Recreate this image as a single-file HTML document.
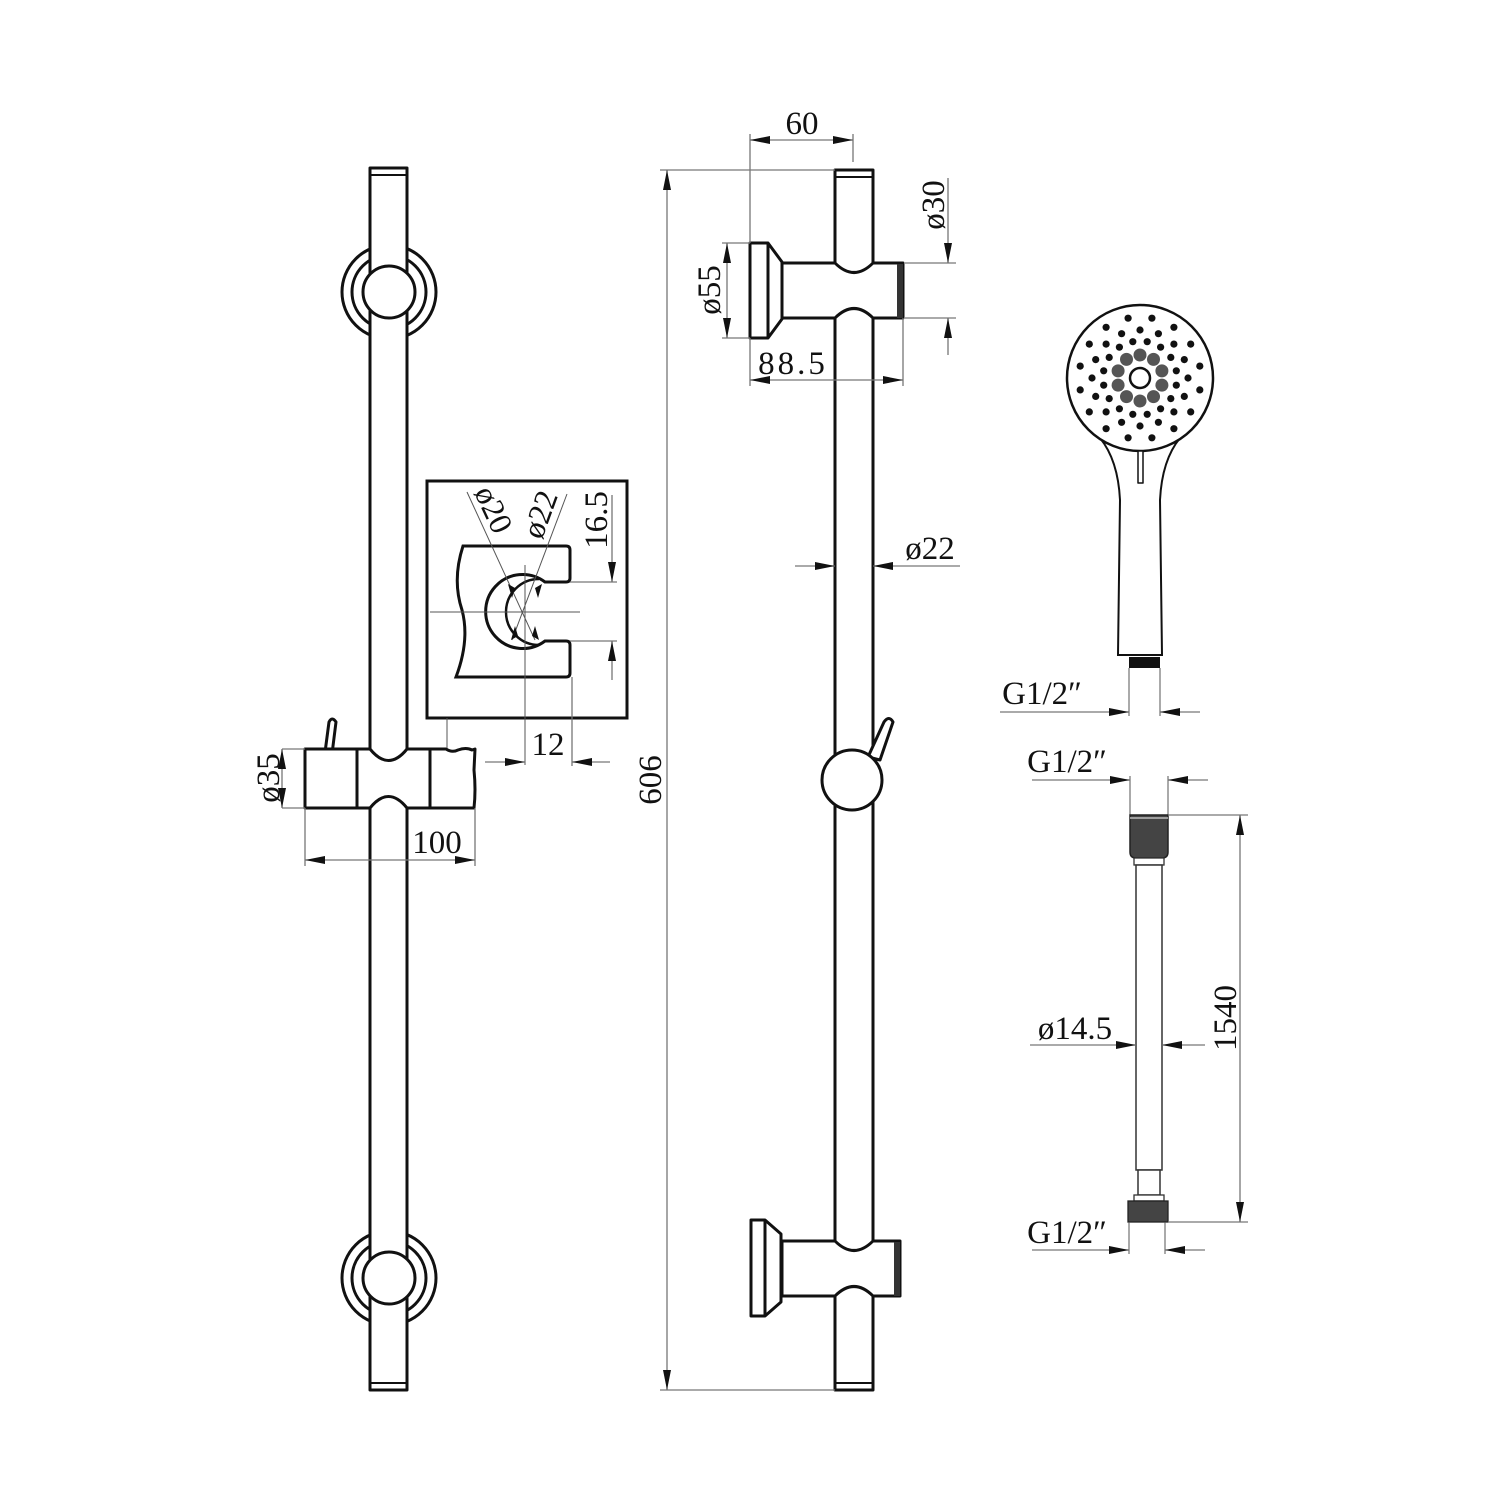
<!DOCTYPE html>
<html><head><meta charset="utf-8"><style>
html,body{margin:0;padding:0;background:#fff}
svg{display:block}
text{font-family:"Liberation Serif",serif;font-size:33px;fill:#111}
.o{fill:#fff;stroke:#111;stroke-width:3;stroke-linejoin:round}
.n{fill:none;stroke:#111;stroke-width:3}
.d{fill:none;stroke:#777;stroke-width:1.3}
.c{fill:none;stroke:#555;stroke-width:1}
</style></head><body>
<svg width="1500" height="1500" viewBox="0 0 1500 1500" xmlns="http://www.w3.org/2000/svg">
<defs>
<marker id="a" viewBox="0 0 20 8" refX="20" refY="4" markerWidth="20" markerHeight="8" markerUnits="userSpaceOnUse" orient="auto"><path d="M0,0 L20,4 L0,8 Z" fill="#111"/></marker>
</defs>

<!-- ===== LEFT RAIL ===== -->
<circle class="n" cx="389" cy="292" r="47"/>
<circle class="n" cx="389" cy="292" r="37"/>
<circle class="n" cx="389" cy="1278" r="47"/>
<circle class="n" cx="389" cy="1278" r="37"/>
<rect class="o" x="370" y="168" width="37" height="1222"/>
<line x1="370" y1="175" x2="407" y2="175" stroke="#111" stroke-width="2"/>
<line x1="370" y1="1383" x2="407" y2="1383" stroke="#111" stroke-width="2"/>
<circle class="o" cx="389" cy="292" r="26"/>
<circle class="o" cx="389" cy="1278" r="26"/>

<!-- left slider -->
<path class="o" d="M324,760 L329,722 Q332,716 336,722 L331,762 Q328,768 324,760 Z"/>
<rect class="o" x="305" y="749" width="52" height="59"/>
<path class="o" d="M357,749 L370,749 Q388.5,772 407,749 L430,749 L430,808 L407,808 Q388.5,785 370,808 L357,808 Z"/>
<path class="o" d="M430,749 L446,749 Q452,753 458,750 Q466,747 472,750 L475,749 L474,770 Q476,790 474,808 L430,808 Z"/>
<!-- ø35 -->
<line class="d" x1="282" y1="749" x2="305" y2="749"/>
<line class="d" x1="282" y1="808" x2="305" y2="808"/>
<line class="d" x1="282" y1="778" x2="282" y2="749" marker-end="url(#a)"/>
<line class="d" x1="282" y1="778" x2="282" y2="808" marker-end="url(#a)"/>
<text transform="translate(279,778) rotate(-90)" text-anchor="middle">ø35</text>
<!-- 100 -->
<line class="d" x1="305" y1="808" x2="305" y2="866"/>
<line class="d" x1="475" y1="808" x2="475" y2="866"/>
<line class="d" x1="390" y1="860" x2="305" y2="860" marker-end="url(#a)"/>
<line class="d" x1="390" y1="860" x2="475" y2="860" marker-end="url(#a)"/>
<text x="437" y="853" text-anchor="middle">100</text>

<!-- holder detail -->
<rect class="n" x="427" y="481" width="200" height="237"/>
<line class="c" x1="447" y1="718" x2="447" y2="748"/>
<path class="n" d="M463,546 L566,546 Q570,546 570,550 L570,578 Q570,582 566,582 L545,582 A37,37 0 1,0 545,641 L566,641 Q570,641 570,645 L570,673 Q570,677 566,677 L456,677 Q470,640 462,610 Q452,580 463,546 Z"/>
<path class="n" style="stroke-width:2.5" d="M539,579 A33,33 0 1,0 539,645"/>
<line class="c" x1="430" y1="612" x2="580" y2="612"/>
<line class="c" x1="525" y1="565" x2="525" y2="765"/>
<line class="c" x1="467" y1="492" x2="535" y2="640"/>
<line class="c" x1="567" y1="494" x2="512" y2="640"/>
<path d="M515,588 l-7,-4 l4,14z M518,636 l-7,4 l4,-14z M535,588 l7,-4 l-4,14z M532,636 l7,4 l-4,-14z" fill="#111"/>
<text transform="translate(484,514) rotate(65)" text-anchor="middle" style="font-size:32px">ø20</text>
<text transform="translate(550,518) rotate(-70)" text-anchor="middle" style="font-size:32px">ø22</text>
<!-- 16.5 -->
<line class="d" x1="570" y1="582" x2="617" y2="582"/>
<line class="d" x1="570" y1="641" x2="617" y2="641"/>
<line class="d" x1="612" y1="495" x2="612" y2="582" marker-end="url(#a)"/>
<line class="d" x1="612" y1="680" x2="612" y2="641" marker-end="url(#a)"/>
<text transform="translate(607,520) rotate(-90)" text-anchor="middle">16.5</text>
<!-- 12 -->
<line class="d" x1="572" y1="677" x2="572" y2="766"/>
<line class="d" x1="485" y1="762" x2="525" y2="762" marker-end="url(#a)"/>
<line class="d" x1="610" y1="762" x2="572" y2="762" marker-end="url(#a)"/>
<text x="548" y="755" text-anchor="middle">12</text>

<!-- ===== MIDDLE RAIL ===== -->
<rect class="o" x="835" y="170" width="38" height="1220"/>
<line x1="835" y1="177" x2="873" y2="177" stroke="#111" stroke-width="2"/>
<line x1="835" y1="1383" x2="873" y2="1383" stroke="#111" stroke-width="2"/>
<path class="o" d="M782,263 L835,263 Q854,282 873,263 L903,263 L903,318 L873,318 Q854,299 835,318 L782,318 Z"/>
<rect x="897" y="264" width="6" height="54" fill="#333"/>
<path class="o" d="M750,243 L768,243 L782,262 L782,319 L768,338 L750,338 Z"/>
<line class="n" x1="768" y1="243" x2="768" y2="338"/>
<path class="o" d="M782,1241 L835,1241 Q854,1260 873,1241 L900,1241 L900,1296 L873,1296 Q854,1277 835,1296 L782,1296 Z"/>
<rect x="894" y="1242" width="6" height="54" fill="#333"/>
<path class="o" d="M751,1220 L765,1220 L781,1234 L781,1302 L765,1316 L751,1316 Z"/>
<line class="n" x1="765" y1="1220" x2="765" y2="1316"/>
<path class="o" d="M868,757 L884,722 Q889,715 893,722 L880,760 Z"/>
<circle class="o" cx="852" cy="780" r="30"/>
<!-- 60 -->
<line class="d" x1="750" y1="134" x2="750" y2="243"/>
<line class="d" x1="853" y1="134" x2="853" y2="162"/>
<line class="d" x1="800" y1="140" x2="750" y2="140" marker-end="url(#a)"/>
<line class="d" x1="800" y1="140" x2="853" y2="140" marker-end="url(#a)"/>
<text x="802" y="134" text-anchor="middle">60</text>
<!-- ø30 -->
<line class="d" x1="905" y1="263" x2="956" y2="263"/>
<line class="d" x1="905" y1="318" x2="956" y2="318"/>
<line class="d" x1="948" y1="178" x2="948" y2="263" marker-end="url(#a)"/>
<line class="d" x1="948" y1="355" x2="948" y2="318" marker-end="url(#a)"/>
<text transform="translate(944,205) rotate(-90)" text-anchor="middle">ø30</text>
<!-- ø55 -->
<line class="d" x1="722" y1="243" x2="750" y2="243"/>
<line class="d" x1="722" y1="338" x2="750" y2="338"/>
<line class="d" x1="727" y1="290" x2="727" y2="243" marker-end="url(#a)"/>
<line class="d" x1="727" y1="290" x2="727" y2="338" marker-end="url(#a)"/>
<text transform="translate(720,290) rotate(-90)" text-anchor="middle">ø55</text>
<!-- 88.5 -->
<line class="d" x1="750" y1="338" x2="750" y2="386"/>
<line class="d" x1="903" y1="318" x2="903" y2="386"/>
<line class="d" x1="826" y1="380" x2="750" y2="380" marker-end="url(#a)"/>
<line class="d" x1="826" y1="380" x2="903" y2="380" marker-end="url(#a)"/>
<text x="793" y="374" text-anchor="middle" letter-spacing="3">88.5</text>
<!-- ø22 -->
<line class="d" x1="795" y1="566" x2="835" y2="566" marker-end="url(#a)"/>
<line class="d" x1="960" y1="566" x2="873" y2="566" marker-end="url(#a)"/>
<text x="930" y="559" text-anchor="middle">ø22</text>
<!-- 606 -->
<line class="d" x1="660" y1="170" x2="835" y2="170"/>
<line class="d" x1="660" y1="1390" x2="835" y2="1390"/>
<line class="d" x1="667" y1="780" x2="667" y2="170" marker-end="url(#a)"/>
<line class="d" x1="667" y1="780" x2="667" y2="1390" marker-end="url(#a)"/>
<text transform="translate(661,780) rotate(-90)" text-anchor="middle">606</text>

<!-- ===== SHOWER HEAD ===== -->
<path class="n" style="stroke-width:2" d="M1100,438 Q1118,460 1120,500 L1118,655 L1162,655 L1160,500 Q1162,460 1180,438"/>
<line class="n" style="stroke-width:2" x1="1118" y1="655" x2="1162" y2="655"/>
<circle class="o" cx="1140" cy="378" r="73" style="stroke-width:2.5"/>
<rect class="o" x="1138" y="451" width="5" height="32" style="stroke-width:1.5"/>
<g id="holes" fill="#111"></g>
<circle class="n" cx="1140" cy="378" r="10" style="stroke-width:2.5"/>
<rect x="1129" y="657" width="31" height="11" fill="#111"/>
<line class="c" x1="1129" y1="668" x2="1129" y2="716"/>
<line class="c" x1="1160" y1="668" x2="1160" y2="716"/>
<line class="d" x1="1000" y1="712" x2="1129" y2="712" marker-end="url(#a)"/>
<line class="d" x1="1200" y1="712" x2="1160" y2="712" marker-end="url(#a)"/>
<text x="1042" y="704" text-anchor="middle">G1/2″</text>

<!-- ===== HOSE ===== -->
<line class="c" x1="1130" y1="776" x2="1130" y2="815"/>
<line class="c" x1="1168" y1="776" x2="1168" y2="815"/>
<line class="d" x1="1032" y1="780" x2="1130" y2="780" marker-end="url(#a)"/>
<line class="d" x1="1208" y1="780" x2="1168" y2="780" marker-end="url(#a)"/>
<text x="1067" y="772" text-anchor="middle">G1/2″</text>
<path d="M1130,815 L1168,815 L1168,852 Q1168,858 1162,858 L1136,858 Q1130,858 1130,852 Z" fill="#444" stroke="#222" stroke-width="1.5"/>
<line x1="1130" y1="818" x2="1168" y2="818" stroke="#bbb" stroke-width="1.5"/>
<rect x="1134" y="858" width="30" height="7" fill="#fff" stroke="#333" stroke-width="1.3"/>
<rect x="1136" y="865" width="26" height="305" fill="#fff" stroke="#333" stroke-width="1.5"/>
<rect x="1138" y="1170" width="22" height="25" fill="#fff" stroke="#333" stroke-width="1.5"/>
<rect x="1134" y="1195" width="30" height="6" fill="#fff" stroke="#333" stroke-width="1.3"/>
<rect x="1128" y="1201" width="40" height="21" fill="#444" stroke="#222" stroke-width="1.3"/>
<line class="d" x1="1168" y1="815" x2="1248" y2="815"/>
<line class="d" x1="1168" y1="1222" x2="1248" y2="1222"/>
<line class="d" x1="1240" y1="1018" x2="1240" y2="815" marker-end="url(#a)"/>
<line class="d" x1="1240" y1="1018" x2="1240" y2="1222" marker-end="url(#a)"/>
<text transform="translate(1236,1018) rotate(-90)" text-anchor="middle">1540</text>
<line class="d" x1="1030" y1="1045" x2="1136" y2="1045" marker-end="url(#a)"/>
<line class="d" x1="1205" y1="1045" x2="1162" y2="1045" marker-end="url(#a)"/>
<text x="1075" y="1039" text-anchor="middle">ø14.5</text>
<line class="c" x1="1129" y1="1222" x2="1129" y2="1254"/>
<line class="c" x1="1165" y1="1222" x2="1165" y2="1254"/>
<line class="d" x1="1032" y1="1250" x2="1129" y2="1250" marker-end="url(#a)"/>
<line class="d" x1="1205" y1="1250" x2="1165" y2="1250" marker-end="url(#a)"/>
<text x="1067" y="1243" text-anchor="middle">G1/2″</text>
</svg>
<script>
(function(){
var g=document.getElementById('holes'),cx=1140,cy=378,s='';
function dot(r,a,rad,fill){var x=cx+r*Math.cos(a),y=cy+r*Math.sin(a);s+='<circle cx="'+x.toFixed(1)+'" cy="'+y.toFixed(1)+'" r="'+rad+'" fill="'+fill+'"/>';}
for(var i=0;i<10;i++){dot(23,i*Math.PI/5+Math.PI/10,6.5,'#555');}
for(var i=0;i<16;i++){var a=i*Math.PI/8;dot(37,a+Math.PI/16,3.6,'#111');dot(48,a,3.6,'#111');dot(61,a+Math.PI/16,3.6,'#111');}
g.innerHTML=s;
})();
</script>
</body></html>
